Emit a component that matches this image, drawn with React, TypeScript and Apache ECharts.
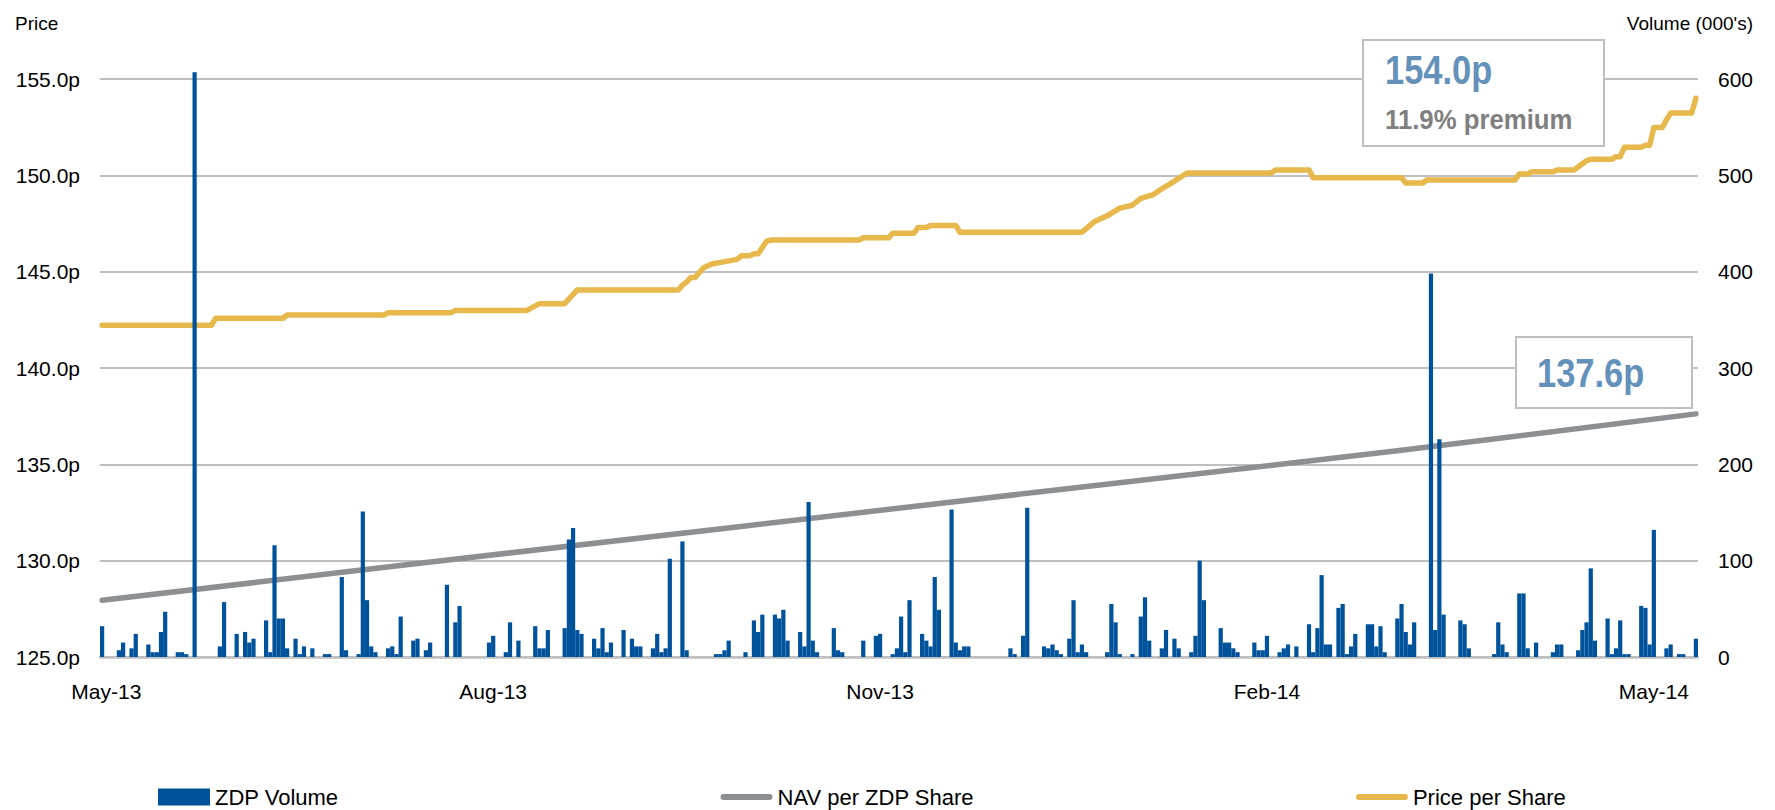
import React, { useEffect, useRef } from "react";
import * as echarts from "echarts";

// ---- Data ----
const START_DATE = Date.UTC(2013, 3, 30); // first calendar day on the axis
const DAY_COUNT = 380;
const TICK_INDEX = [1, 93, 185, 277, 369];
const TICK_LABELS = ["May-13", "Aug-13", "Nov-13", "Feb-14", "May-14"];

const PRICE_TICKS = [125, 130, 135, 140, 145, 150, 155];
const VOLUME_TICKS = [0, 100, 200, 300, 400, 500, 600];

// [dayIndex, volume (000's)]
const ZDP_VOLUME: [number, number][] = [
  [0, 32], [4, 7], [5, 15], [7, 9], [8, 24], [11, 13], [12, 5], [13, 5], [14, 26], [15, 47],
  [18, 5], [19, 5], [20, 3], [22, 607], [28, 11], [29, 57], [32, 24], [34, 26], [35, 15], [36, 19],
  [39, 38], [40, 5], [41, 116], [42, 40], [43, 40], [44, 9], [46, 19], [47, 3], [48, 11], [50, 9],
  [53, 3], [54, 3], [57, 83], [58, 7], [61, 3], [62, 151], [63, 59], [64, 11], [65, 5], [68, 9],
  [69, 11], [70, 3], [71, 42], [74, 17], [75, 19], [77, 7], [78, 15], [82, 75], [84, 36], [85, 53],
  [92, 15], [93, 22], [96, 5], [97, 36], [99, 17], [103, 32], [104, 9], [105, 9], [106, 28], [110, 30],
  [111, 122], [112, 134], [113, 28], [114, 24], [117, 19], [118, 9], [119, 30], [120, 5], [121, 15], [124, 28],
  [126, 19], [127, 11], [128, 11], [131, 9], [132, 24], [133, 5], [134, 9], [135, 102], [138, 120], [139, 7],
  [146, 3], [147, 3], [148, 7], [149, 17], [153, 5], [155, 38], [156, 26], [157, 44], [160, 44], [161, 40],
  [162, 49], [163, 17], [166, 26], [167, 11], [168, 161], [169, 17], [170, 5], [174, 30], [175, 7], [176, 5],
  [181, 17], [184, 22], [185, 24], [188, 3], [189, 9], [190, 42], [191, 5], [192, 59], [195, 24], [196, 17],
  [197, 11], [198, 83], [199, 49], [202, 153], [203, 15], [204, 7], [205, 11], [206, 11], [216, 9], [217, 3],
  [219, 22], [220, 155], [224, 11], [225, 9], [226, 13], [227, 7], [228, 3], [230, 19], [231, 59], [232, 5],
  [233, 13], [234, 5], [239, 5], [240, 55], [241, 36], [242, 3], [245, 3], [247, 42], [248, 62], [249, 17],
  [252, 9], [253, 28], [255, 19], [256, 9], [259, 5], [260, 22], [261, 100], [262, 59], [266, 30], [267, 15],
  [268, 15], [269, 9], [270, 5], [274, 15], [275, 7], [276, 7], [277, 22], [280, 5], [281, 9], [282, 13],
  [284, 11], [287, 34], [288, 5], [289, 30], [290, 85], [291, 13], [292, 13], [294, 51], [295, 55], [296, 3],
  [297, 11], [298, 24], [301, 34], [302, 34], [303, 11], [304, 32], [305, 5], [308, 40], [309, 55], [310, 26],
  [311, 13], [312, 36], [316, 398], [317, 28], [318, 226], [319, 44], [323, 38], [324, 34], [325, 9], [331, 3],
  [332, 36], [333, 13], [334, 5], [337, 66], [338, 66], [339, 9], [341, 15], [345, 5], [346, 13], [347, 13],
  [351, 7], [352, 28], [353, 36], [354, 92], [355, 17], [358, 40], [359, 3], [360, 9], [361, 38], [362, 3],
  [363, 3], [366, 53], [367, 51], [368, 13], [369, 132], [372, 9], [373, 13], [375, 3], [376, 3], [379, 19],
];

// [dayIndex, NAV pence]
const NAV_PER_SHARE: [number, number][] = [
  [0, 127.94], [76, 129.88], [153, 131.8], [230, 133.75], [308, 135.7], [379, 137.62],
];

// [dayIndex, price pence]
const PRICE_PER_SHARE: [number, number][] = [
  [0, 142.22], [26, 142.22], [27, 142.58], [43, 142.58], [44, 142.75], [67, 142.75], [68, 142.87],
  [83, 142.87], [84, 142.99], [101, 142.99], [104, 143.34], [110, 143.34], [113, 144.05], [137, 144.05],
  [138, 144.3], [139, 144.46], [140, 144.7], [141, 144.7], [143, 145.2], [145, 145.4], [148, 145.52],
  [151, 145.64], [152, 145.82], [154, 145.82], [155, 145.93], [156, 145.93], [158, 146.58], [159, 146.64],
  [180, 146.64], [181, 146.76], [187, 146.76], [188, 146.99], [193, 146.99], [194, 147.29], [196, 147.29],
  [197, 147.4], [203, 147.4], [204, 147.05], [233, 147.05], [236, 147.6], [239, 147.9], [242, 148.3],
  [245, 148.45], [247, 148.8], [250, 149.0], [252, 149.3], [255, 149.7], [258, 150.12], [278, 150.12],
  [279, 150.28], [287, 150.28], [288, 149.88], [309, 149.88], [310, 149.6], [314, 149.6], [315, 149.76],
  [336, 149.76], [337, 150.07], [339, 150.07], [340, 150.19], [345, 150.19], [346, 150.28], [350, 150.28],
  [353, 150.76], [354, 150.83], [359, 150.83], [360, 150.97], [361, 150.97], [362, 151.46], [366, 151.46],
  [367, 151.56], [368, 151.56], [369, 152.48], [371, 152.48], [372, 152.88], [373, 153.23], [378, 153.23],
  [379, 154.0],
];

const LATEST_PRICE = "154.0p";
const LATEST_PREMIUM = "11.9% premium";
const LATEST_NAV = "137.6p";

const DAYS: string[] = Array.from({ length: DAY_COUNT }, (_, i) =>
  new Date(START_DATE + i * 86400000).toISOString().slice(0, 10)
);

const FONT = "'Liberation Sans', Arial, Helvetica, sans-serif";
const BLUE = "#00529B";
const GREY = "#8D9093";
const GOLD = "#E7B84B";
const GRID = "#BFBFBF";
const NOTE_BLUE = "#6391BA";
// rounded bar used as the legend marker of the two line series (bounding box 54 x 17)
const LINE_ICON = "path://M0,0 M54,17 M3,5.5 L51,5.5 A3,3 0 0 1 51,11.5 L3,11.5 A3,3 0 0 1 3,5.5 Z";

export default function App() {
  const ref = useRef<HTMLDivElement>(null);

  useEffect(() => {
    const chart = echarts.init(ref.current!, null, { renderer: "svg" });
    const option: any = {
      animation: false,
      backgroundColor: "#ffffff",
      textStyle: { fontFamily: FONT },
      grid: { left: 100, right: 77, top: 79, bottom: 153, outerBoundsMode: "none", containLabel: false },
      legend: {
        left: 153,
        top: 781,
        itemWidth: 52,
        itemHeight: 17,
        itemGap: 382,
        textStyle: { fontSize: 22, color: "#000", fontFamily: FONT },
        data: [
          { name: "ZDP Volume", icon: "rect" },
          { name: "NAV per ZDP Share", icon: LINE_ICON },
          { name: "Price per Share", icon: LINE_ICON },
        ],
      },
      xAxis: {
        type: "category",
        data: DAYS,
        boundaryGap: true,
        axisLine: { show: true, lineStyle: { color: GRID, width: 2.5 } },
        axisTick: { show: false },
        splitLine: { show: false },
        axisLabel: {
          interval: (index: number) => TICK_INDEX.includes(index),
          formatter: (_v: string, index: number) => TICK_LABELS[TICK_INDEX.indexOf(index)] ?? "",
          fontSize: 21,
          color: "#000",
          margin: 24,
          fontFamily: FONT,
        },
      },
      yAxis: [
        {
          type: "value",
          min: PRICE_TICKS[0],
          max: PRICE_TICKS[PRICE_TICKS.length - 1],
          interval: 5,
          axisLine: { show: false },
          axisTick: { show: false },
          splitLine: { show: true, lineStyle: { color: GRID, width: 2 } },
          axisLabel: {
            formatter: (v: number) => `${v.toFixed(1)}p`,
            fontSize: 21,
            color: "#000",
            margin: 20,
            fontFamily: FONT,
          },
        },
        {
          type: "value",
          min: VOLUME_TICKS[0],
          max: VOLUME_TICKS[VOLUME_TICKS.length - 1],
          interval: 100,
          axisLine: { show: false },
          axisTick: { show: false },
          splitLine: { show: false },
          axisLabel: { fontSize: 21, color: "#000", margin: 20, fontFamily: FONT },
        },
      ],
      series: [
        {
          name: "ZDP Volume",
          type: "bar",
          yAxisIndex: 1,
          data: ZDP_VOLUME,
          barCategoryGap: "0%",
          itemStyle: { color: BLUE },
          clip: false,
          z: 4,
        },
        {
          name: "NAV per ZDP Share",
          type: "line",
          yAxisIndex: 0,
          data: NAV_PER_SHARE,
          symbol: "none",
          lineStyle: { color: GREY, width: 5.5, cap: "round", join: "round" },
          itemStyle: { color: GREY },
          z: 2,
        },
        {
          name: "Price per Share",
          type: "line",
          yAxisIndex: 0,
          data: PRICE_PER_SHARE,
          symbol: "none",
          lineStyle: { color: GOLD, width: 5.5, cap: "round", join: "round" },
          itemStyle: { color: GOLD },
          z: 2,
        },
      ],
      graphic: [
        {
          type: "text",
          x: 15,
          y: 23,
          z: 10,
          style: { text: "Price", fontSize: 19, fill: "#000", fontFamily: FONT, align: "left", verticalAlign: "middle", textAlign: "left", textVerticalAlign: "middle" },
        },
        {
          type: "text",
          x: 1753,
          y: 23,
          z: 10,
          style: { text: "Volume (000's)", fontSize: 19, fill: "#000", fontFamily: FONT, align: "right", verticalAlign: "middle", textAlign: "right", textVerticalAlign: "middle" },
        },
        {
          type: "rect",
          z: 8,
          shape: { x: 1363, y: 40, width: 241, height: 106 },
          style: { fill: "#ffffff", stroke: GRID, lineWidth: 2 },
        },
        {
          type: "text",
          x: 1385,
          y: 70,
          z: 10,
          scaleX: 0.84,
          style: { text: LATEST_PRICE, fontSize: 41, fontWeight: "bold", fill: NOTE_BLUE, fontFamily: FONT, align: "left", verticalAlign: "middle", textAlign: "left", textVerticalAlign: "middle" },
        },
        {
          type: "text",
          x: 1385,
          y: 120,
          z: 10,
          scaleX: 0.92,
          style: { text: LATEST_PREMIUM, fontSize: 28, fontWeight: "bold", fill: "#7F7F7F", fontFamily: FONT, align: "left", verticalAlign: "middle", textAlign: "left", textVerticalAlign: "middle" },
        },
        {
          type: "rect",
          z: 8,
          shape: { x: 1516, y: 337, width: 176, height: 71 },
          style: { fill: "#ffffff", stroke: GRID, lineWidth: 2 },
        },
        {
          type: "text",
          x: 1537,
          y: 373,
          z: 10,
          scaleX: 0.84,
          style: { text: LATEST_NAV, fontSize: 41, fontWeight: "bold", fill: NOTE_BLUE, fontFamily: FONT, align: "left", verticalAlign: "middle", textAlign: "left", textVerticalAlign: "middle" },
        },
      ],
    };
    chart.setOption(option);
    return () => chart.dispose();
  }, []);

  return (
    <div
      ref={ref}
      style={{ position: "fixed", left: 0, top: 0, width: 1775, height: 810, background: "#fff" }}
    />
  );
}
